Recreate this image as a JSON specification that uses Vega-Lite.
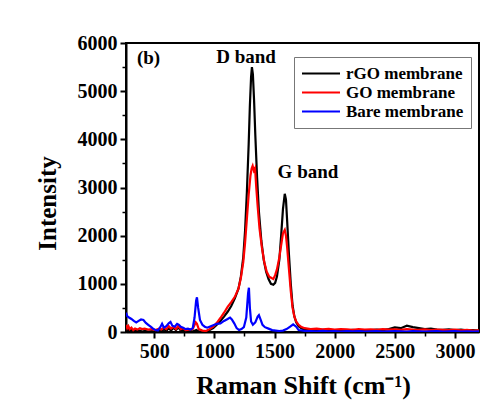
{
  "$schema": "https://vega.github.io/schema/vega-lite/v6.json",
  "width": 353,
  "height": 289,
  "autosize": {"type": "none"},
  "padding": {"left": 126, "top": 43, "right": 25, "bottom": 88},
  "background": "white",
  "config": {"view": {"stroke": "black", "strokeWidth": 2}, "font": "Liberation Serif"},
  "datasets": {
    "spectra": [
      {"s":"rGO membrane","x":265,"y":60},{"s":"rGO membrane","x":275,"y":20},{"s":"rGO membrane","x":285,"y":90},{"s":"rGO membrane","x":295,"y":10},{"s":"rGO membrane","x":310,"y":50},{"s":"rGO membrane","x":325,"y":0},{"s":"rGO membrane","x":340,"y":40},{"s":"rGO membrane","x":360,"y":10},{"s":"rGO membrane","x":380,"y":30},{"s":"rGO membrane","x":400,"y":5},{"s":"rGO membrane","x":420,"y":25},{"s":"rGO membrane","x":450,"y":10},{"s":"rGO membrane","x":480,"y":20},{"s":"rGO membrane","x":510,"y":5},{"s":"rGO membrane","x":540,"y":30},{"s":"rGO membrane","x":560,"y":10},{"s":"rGO membrane","x":580,"y":60},{"s":"rGO membrane","x":600,"y":20},{"s":"rGO membrane","x":620,"y":80},{"s":"rGO membrane","x":640,"y":30},{"s":"rGO membrane","x":660,"y":90},{"s":"rGO membrane","x":680,"y":40},{"s":"rGO membrane","x":700,"y":100},{"s":"rGO membrane","x":720,"y":30},{"s":"rGO membrane","x":740,"y":50},{"s":"rGO membrane","x":760,"y":10},{"s":"rGO membrane","x":790,"y":30},{"s":"rGO membrane","x":820,"y":10},{"s":"rGO membrane","x":850,"y":40},{"s":"rGO membrane","x":870,"y":10},{"s":"rGO membrane","x":900,"y":20},{"s":"rGO membrane","x":930,"y":5},{"s":"rGO membrane","x":960,"y":40},{"s":"rGO membrane","x":990,"y":80},{"s":"rGO membrane","x":1020,"y":150},{"s":"rGO membrane","x":1050,"y":230},{"s":"rGO membrane","x":1080,"y":320},{"s":"rGO membrane","x":1110,"y":420},{"s":"rGO membrane","x":1140,"y":540},{"s":"rGO membrane","x":1170,"y":700},{"s":"rGO membrane","x":1200,"y":900},{"s":"rGO membrane","x":1220,"y":1150},{"s":"rGO membrane","x":1240,"y":1550},{"s":"rGO membrane","x":1255,"y":2100},{"s":"rGO membrane","x":1270,"y":2900},{"s":"rGO membrane","x":1285,"y":3900},{"s":"rGO membrane","x":1295,"y":4700},{"s":"rGO membrane","x":1305,"y":5300},{"s":"rGO membrane","x":1312,"y":5500},{"s":"rGO membrane","x":1320,"y":5350},{"s":"rGO membrane","x":1330,"y":4800},{"s":"rGO membrane","x":1340,"y":4100},{"s":"rGO membrane","x":1355,"y":3200},{"s":"rGO membrane","x":1370,"y":2500},{"s":"rGO membrane","x":1390,"y":1900},{"s":"rGO membrane","x":1410,"y":1500},{"s":"rGO membrane","x":1430,"y":1250},{"s":"rGO membrane","x":1450,"y":1100},{"s":"rGO membrane","x":1470,"y":1000},{"s":"rGO membrane","x":1490,"y":980},{"s":"rGO membrane","x":1505,"y":1020},{"s":"rGO membrane","x":1520,"y":1150},{"s":"rGO membrane","x":1540,"y":1500},{"s":"rGO membrane","x":1555,"y":2000},{"s":"rGO membrane","x":1570,"y":2550},{"s":"rGO membrane","x":1585,"y":2870},{"s":"rGO membrane","x":1595,"y":2750},{"s":"rGO membrane","x":1605,"y":2300},{"s":"rGO membrane","x":1620,"y":1600},{"s":"rGO membrane","x":1635,"y":1000},{"s":"rGO membrane","x":1650,"y":550},{"s":"rGO membrane","x":1665,"y":320},{"s":"rGO membrane","x":1680,"y":200},{"s":"rGO membrane","x":1700,"y":120},{"s":"rGO membrane","x":1720,"y":80},{"s":"rGO membrane","x":1750,"y":50},{"s":"rGO membrane","x":1800,"y":40},{"s":"rGO membrane","x":1850,"y":30},{"s":"rGO membrane","x":1900,"y":45},{"s":"rGO membrane","x":1950,"y":35},{"s":"rGO membrane","x":2000,"y":25},{"s":"rGO membrane","x":2050,"y":40},{"s":"rGO membrane","x":2100,"y":30},{"s":"rGO membrane","x":2150,"y":45},{"s":"rGO membrane","x":2200,"y":35},{"s":"rGO membrane","x":2250,"y":30},{"s":"rGO membrane","x":2300,"y":40},{"s":"rGO membrane","x":2350,"y":50},{"s":"rGO membrane","x":2400,"y":40},{"s":"rGO membrane","x":2450,"y":60},{"s":"rGO membrane","x":2500,"y":95},{"s":"rGO membrane","x":2550,"y":80},{"s":"rGO membrane","x":2600,"y":130},{"s":"rGO membrane","x":2650,"y":100},{"s":"rGO membrane","x":2700,"y":80},{"s":"rGO membrane","x":2750,"y":60},{"s":"rGO membrane","x":2800,"y":70},{"s":"rGO membrane","x":2850,"y":50},{"s":"rGO membrane","x":2900,"y":45},{"s":"rGO membrane","x":2950,"y":55},{"s":"rGO membrane","x":3000,"y":40},{"s":"rGO membrane","x":3050,"y":50},{"s":"rGO membrane","x":3100,"y":35},{"s":"rGO membrane","x":3150,"y":40},{"s":"rGO membrane","x":3200,"y":30},
      {"s":"GO membrane","x":265,"y":150},{"s":"GO membrane","x":275,"y":80},{"s":"GO membrane","x":285,"y":120},{"s":"GO membrane","x":295,"y":60},{"s":"GO membrane","x":310,"y":90},{"s":"GO membrane","x":325,"y":40},{"s":"GO membrane","x":340,"y":70},{"s":"GO membrane","x":360,"y":50},{"s":"GO membrane","x":380,"y":80},{"s":"GO membrane","x":400,"y":60},{"s":"GO membrane","x":420,"y":70},{"s":"GO membrane","x":450,"y":50},{"s":"GO membrane","x":480,"y":60},{"s":"GO membrane","x":510,"y":40},{"s":"GO membrane","x":540,"y":70},{"s":"GO membrane","x":560,"y":50},{"s":"GO membrane","x":580,"y":90},{"s":"GO membrane","x":600,"y":60},{"s":"GO membrane","x":620,"y":120},{"s":"GO membrane","x":640,"y":70},{"s":"GO membrane","x":660,"y":110},{"s":"GO membrane","x":680,"y":60},{"s":"GO membrane","x":700,"y":130},{"s":"GO membrane","x":720,"y":60},{"s":"GO membrane","x":740,"y":80},{"s":"GO membrane","x":760,"y":40},{"s":"GO membrane","x":790,"y":50},{"s":"GO membrane","x":820,"y":60},{"s":"GO membrane","x":845,"y":200},{"s":"GO membrane","x":855,"y":170},{"s":"GO membrane","x":870,"y":60},{"s":"GO membrane","x":900,"y":30},{"s":"GO membrane","x":930,"y":20},{"s":"GO membrane","x":960,"y":60},{"s":"GO membrane","x":990,"y":110},{"s":"GO membrane","x":1020,"y":190},{"s":"GO membrane","x":1050,"y":290},{"s":"GO membrane","x":1080,"y":400},{"s":"GO membrane","x":1110,"y":520},{"s":"GO membrane","x":1140,"y":620},{"s":"GO membrane","x":1170,"y":730},{"s":"GO membrane","x":1200,"y":900},{"s":"GO membrane","x":1220,"y":1120},{"s":"GO membrane","x":1240,"y":1450},{"s":"GO membrane","x":1255,"y":1850},{"s":"GO membrane","x":1270,"y":2350},{"s":"GO membrane","x":1285,"y":2850},{"s":"GO membrane","x":1300,"y":3250},{"s":"GO membrane","x":1310,"y":3400},{"s":"GO membrane","x":1318,"y":3450},{"s":"GO membrane","x":1328,"y":3350},{"s":"GO membrane","x":1338,"y":3400},{"s":"GO membrane","x":1348,"y":3000},{"s":"GO membrane","x":1360,"y":2600},{"s":"GO membrane","x":1375,"y":2150},{"s":"GO membrane","x":1395,"y":1750},{"s":"GO membrane","x":1415,"y":1450},{"s":"GO membrane","x":1435,"y":1250},{"s":"GO membrane","x":1455,"y":1150},{"s":"GO membrane","x":1475,"y":1120},{"s":"GO membrane","x":1490,"y":1100},{"s":"GO membrane","x":1505,"y":1180},{"s":"GO membrane","x":1520,"y":1300},{"s":"GO membrane","x":1540,"y":1550},{"s":"GO membrane","x":1555,"y":1800},{"s":"GO membrane","x":1570,"y":2050},{"s":"GO membrane","x":1585,"y":2120},{"s":"GO membrane","x":1595,"y":2000},{"s":"GO membrane","x":1605,"y":1750},{"s":"GO membrane","x":1620,"y":1300},{"s":"GO membrane","x":1635,"y":850},{"s":"GO membrane","x":1650,"y":500},{"s":"GO membrane","x":1665,"y":320},{"s":"GO membrane","x":1680,"y":220},{"s":"GO membrane","x":1700,"y":150},{"s":"GO membrane","x":1720,"y":110},{"s":"GO membrane","x":1750,"y":80},{"s":"GO membrane","x":1800,"y":60},{"s":"GO membrane","x":1850,"y":70},{"s":"GO membrane","x":1900,"y":55},{"s":"GO membrane","x":1950,"y":65},{"s":"GO membrane","x":2000,"y":50},{"s":"GO membrane","x":2050,"y":60},{"s":"GO membrane","x":2100,"y":55},{"s":"GO membrane","x":2150,"y":45},{"s":"GO membrane","x":2200,"y":60},{"s":"GO membrane","x":2250,"y":50},{"s":"GO membrane","x":2300,"y":55},{"s":"GO membrane","x":2350,"y":45},{"s":"GO membrane","x":2400,"y":60},{"s":"GO membrane","x":2450,"y":50},{"s":"GO membrane","x":2500,"y":55},{"s":"GO membrane","x":2550,"y":45},{"s":"GO membrane","x":2600,"y":60},{"s":"GO membrane","x":2650,"y":50},{"s":"GO membrane","x":2700,"y":45},{"s":"GO membrane","x":2750,"y":55},{"s":"GO membrane","x":2800,"y":40},{"s":"GO membrane","x":2850,"y":50},{"s":"GO membrane","x":2900,"y":45},{"s":"GO membrane","x":2950,"y":40},{"s":"GO membrane","x":3000,"y":50},{"s":"GO membrane","x":3050,"y":35},{"s":"GO membrane","x":3100,"y":45},{"s":"GO membrane","x":3150,"y":30},{"s":"GO membrane","x":3200,"y":35},
      {"s":"Bare membrane","x":265,"y":400},{"s":"Bare membrane","x":275,"y":330},{"s":"Bare membrane","x":290,"y":300},{"s":"Bare membrane","x":310,"y":270},{"s":"Bare membrane","x":330,"y":230},{"s":"Bare membrane","x":350,"y":200},{"s":"Bare membrane","x":370,"y":230},{"s":"Bare membrane","x":390,"y":260},{"s":"Bare membrane","x":410,"y":250},{"s":"Bare membrane","x":430,"y":190},{"s":"Bare membrane","x":450,"y":150},{"s":"Bare membrane","x":470,"y":110},{"s":"Bare membrane","x":490,"y":70},{"s":"Bare membrane","x":510,"y":40},{"s":"Bare membrane","x":530,"y":30},{"s":"Bare membrane","x":550,"y":100},{"s":"Bare membrane","x":565,"y":170},{"s":"Bare membrane","x":580,"y":90},{"s":"Bare membrane","x":600,"y":120},{"s":"Bare membrane","x":620,"y":180},{"s":"Bare membrane","x":635,"y":210},{"s":"Bare membrane","x":650,"y":130},{"s":"Bare membrane","x":670,"y":110},{"s":"Bare membrane","x":690,"y":170},{"s":"Bare membrane","x":705,"y":150},{"s":"Bare membrane","x":720,"y":110},{"s":"Bare membrane","x":740,"y":90},{"s":"Bare membrane","x":760,"y":60},{"s":"Bare membrane","x":780,"y":70},{"s":"Bare membrane","x":800,"y":50},{"s":"Bare membrane","x":820,"y":80},{"s":"Bare membrane","x":835,"y":300},{"s":"Bare membrane","x":848,"y":650},{"s":"Bare membrane","x":855,"y":720},{"s":"Bare membrane","x":865,"y":500},{"s":"Bare membrane","x":880,"y":250},{"s":"Bare membrane","x":900,"y":150},{"s":"Bare membrane","x":920,"y":110},{"s":"Bare membrane","x":940,"y":90},{"s":"Bare membrane","x":960,"y":110},{"s":"Bare membrane","x":990,"y":140},{"s":"Bare membrane","x":1020,"y":170},{"s":"Bare membrane","x":1050,"y":180},{"s":"Bare membrane","x":1080,"y":230},{"s":"Bare membrane","x":1110,"y":270},{"s":"Bare membrane","x":1130,"y":300},{"s":"Bare membrane","x":1145,"y":260},{"s":"Bare membrane","x":1165,"y":180},{"s":"Bare membrane","x":1185,"y":80},{"s":"Bare membrane","x":1205,"y":40},{"s":"Bare membrane","x":1225,"y":60},{"s":"Bare membrane","x":1245,"y":100},{"s":"Bare membrane","x":1265,"y":300},{"s":"Bare membrane","x":1280,"y":800},{"s":"Bare membrane","x":1287,"y":920},{"s":"Bare membrane","x":1295,"y":500},{"s":"Bare membrane","x":1305,"y":220},{"s":"Bare membrane","x":1320,"y":150},{"s":"Bare membrane","x":1340,"y":200},{"s":"Bare membrane","x":1360,"y":320},{"s":"Bare membrane","x":1370,"y":350},{"s":"Bare membrane","x":1385,"y":250},{"s":"Bare membrane","x":1400,"y":150},{"s":"Bare membrane","x":1420,"y":100},{"s":"Bare membrane","x":1450,"y":70},{"s":"Bare membrane","x":1480,"y":40},{"s":"Bare membrane","x":1510,"y":30},{"s":"Bare membrane","x":1540,"y":20},{"s":"Bare membrane","x":1570,"y":30},{"s":"Bare membrane","x":1600,"y":60},{"s":"Bare membrane","x":1630,"y":110},{"s":"Bare membrane","x":1655,"y":160},{"s":"Bare membrane","x":1680,"y":110},{"s":"Bare membrane","x":1700,"y":40},{"s":"Bare membrane","x":1750,"y":25},{"s":"Bare membrane","x":1800,"y":20},{"s":"Bare membrane","x":1850,"y":15},{"s":"Bare membrane","x":1900,"y":25},{"s":"Bare membrane","x":1950,"y":15},{"s":"Bare membrane","x":2000,"y":20},{"s":"Bare membrane","x":2050,"y":10},{"s":"Bare membrane","x":2100,"y":20},{"s":"Bare membrane","x":2150,"y":15},{"s":"Bare membrane","x":2200,"y":20},{"s":"Bare membrane","x":2250,"y":10},{"s":"Bare membrane","x":2300,"y":15},{"s":"Bare membrane","x":2350,"y":20},{"s":"Bare membrane","x":2400,"y":10},{"s":"Bare membrane","x":2450,"y":15},{"s":"Bare membrane","x":2500,"y":20},{"s":"Bare membrane","x":2550,"y":15},{"s":"Bare membrane","x":2600,"y":10},{"s":"Bare membrane","x":2650,"y":20},{"s":"Bare membrane","x":2700,"y":15},{"s":"Bare membrane","x":2750,"y":10},{"s":"Bare membrane","x":2800,"y":15},{"s":"Bare membrane","x":2850,"y":20},{"s":"Bare membrane","x":2900,"y":10},{"s":"Bare membrane","x":2950,"y":15},{"s":"Bare membrane","x":3000,"y":20},{"s":"Bare membrane","x":3050,"y":10},{"s":"Bare membrane","x":3100,"y":15},{"s":"Bare membrane","x":3150,"y":10},{"s":"Bare membrane","x":3200,"y":15}
    ],
    "notes": [
      {"label": "(b)", "x": 452, "y": 5690},
      {"label": "D band", "x": 1263, "y": 5710},
      {"label": "G band", "x": 1778, "y": 3320}
    ],
    "minor": [{"mx": 1000, "my": 1000}]
  },
  "resolve": {"axis": {"x": "independent", "y": "independent"}},
  "layer": [
    {
      "data": {"name": "spectra"},
      "mark": {"type": "line", "strokeWidth": 2.2, "clip": true},
      "encoding": {
        "x": {"field": "x", "type": "quantitative",
          "scale": {"domain": [265, 3200], "nice": false, "zero": false},
          "axis": {"orient": "bottom", "values": [500, 1000, 1500, 2000, 2500, 3000], "format": "d", "grid": false,
            "domainColor": "black", "domainWidth": 2, "tickColor": "black", "tickWidth": 2, "tickSize": 6,
            "labelFont": "Liberation Serif", "labelFontWeight": "bold", "labelFontSize": 20, "labelColor": "black", "labelPadding": 3,
            "title": "Raman Shift (cm⁻¹)", "titleFont": "Liberation Serif", "titleFontWeight": "bold", "titleFontSize": 26, "titleColor": "black",
            "titleX": 177, "titleY": 61, "titleBaseline": "alphabetic", "titleAlign": "center"}},
        "y": {"field": "y", "type": "quantitative",
          "scale": {"domain": [0, 6000], "nice": false},
          "axis": {"orient": "left", "values": [0, 1000, 2000, 3000, 4000, 5000, 6000], "format": "d", "grid": false,
            "domainColor": "black", "domainWidth": 2, "tickColor": "black", "tickWidth": 2, "tickSize": 6,
            "labelFont": "Liberation Serif", "labelFontWeight": "bold", "labelFontSize": 20, "labelColor": "black", "labelPadding": 3,
            "title": "Intensity", "titleFont": "Liberation Serif", "titleFontWeight": "bold", "titleFontSize": 25, "titleColor": "black",
            "titleX": -79, "titleY": 160, "titleBaseline": "middle", "titleAlign": "center", "titleAngle": -90}},
        "color": {"field": "s", "type": "nominal",
          "scale": {"domain": ["rGO membrane", "GO membrane", "Bare membrane"], "range": ["#000000", "#ff0000", "#0000ff"]},
          "legend": {"orient": "none", "legendX": 168, "legendY": 14, "title": null,
            "strokeColor": "#777777", "fillColor": "white", "padding": 7,
            "symbolType": "stroke", "symbolSize": 1444, "symbolStrokeWidth": 2,
            "labelFont": "Liberation Serif", "labelFontWeight": "bold", "labelFontSize": 17, "labelColor": "black",
            "labelOffset": 5, "clipHeight": 19, "rowPadding": 0}}
      }
    },
    {
      "data": {"name": "minor"},
      "mark": {"type": "point", "opacity": 0},
      "encoding": {
        "x": {"field": "mx", "type": "quantitative",
          "axis": {"orient": "bottom", "values": [750, 1250, 1750, 2250, 2750], "labels": false, "domain": false, "grid": false,
            "tickColor": "black", "tickWidth": 1.5, "tickSize": 4, "title": null}},
        "y": {"field": "my", "type": "quantitative",
          "axis": {"orient": "left", "values": [500, 1500, 2500, 3500, 4500, 5500], "labels": false, "domain": false, "grid": false,
            "tickColor": "black", "tickWidth": 1.5, "tickSize": 4, "title": null}}
      }
    },
    {
      "data": {"name": "notes"},
      "mark": {"type": "text", "font": "Liberation Serif", "fontWeight": "bold", "fontSize": 19, "color": "black", "align": "center", "baseline": "middle"},
      "encoding": {
        "x": {"field": "x", "type": "quantitative", "axis": null},
        "y": {"field": "y", "type": "quantitative", "axis": null},
        "text": {"field": "label"}
      }
    }
  ]
}
